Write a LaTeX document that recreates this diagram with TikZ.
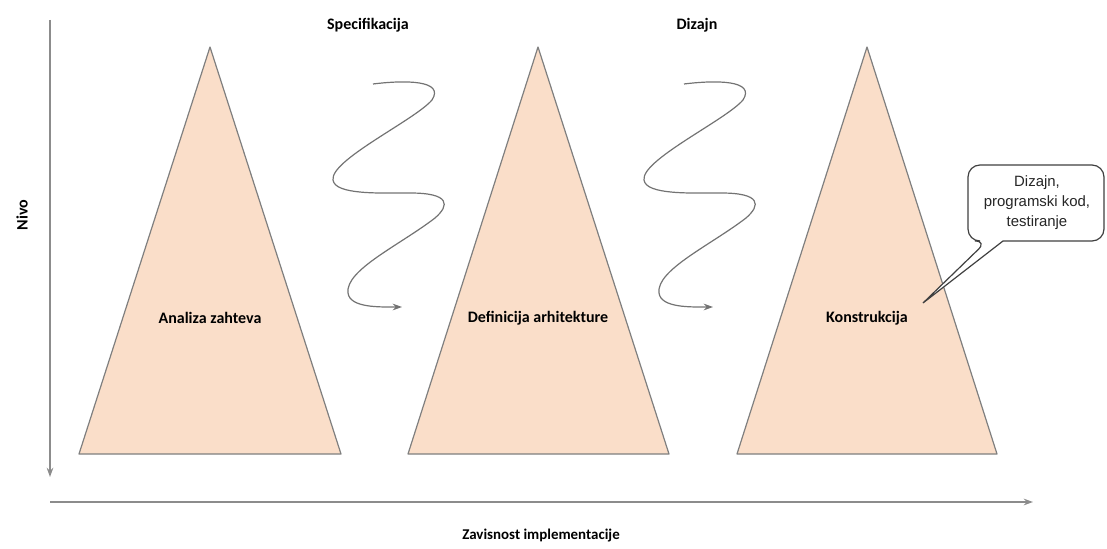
\documentclass[tikz,border=0pt]{standalone}
\usepackage{fontspec}
\setmainfont{Carlito}
\newfontfamily\calloutfont{Liberation Sans}
\usetikzlibrary{arrows.meta}
\definecolor{peach}{HTML}{FADEC9}
\definecolor{edgegray}{HTML}{7F7F7F}
\definecolor{axisgray}{HTML}{8C8C8C}
\definecolor{tipgray}{HTML}{5A5A5A}
\begin{document}
\begin{tikzpicture}[x=0.75pt,y=-0.75pt,
  phase/.style={draw=edgegray,fill=peach,line width=0.9pt,line join=round},
  lbl/.style={font=\bfseries\fontsize{12}{14}\selectfont,text=black},
  axis/.style={draw=axisgray,line width=1.1pt,-{Stealth[length=7pt,width=5pt,fill=tipgray]}},
  wave/.style={draw=gray!90!black,line width=0.9pt,-{Stealth[length=7pt,width=5pt,fill=tipgray]}},
  bubble/.style={draw=black!75,fill=white,line width=0.9pt}]
\useasboundingbox (0,0) rectangle (1107,549);

% axes
\coordinate (ytop) at (50,20);
\coordinate (ybot) at (50,477);
\coordinate (xl) at (50,502);
\coordinate (xr) at (1033,502);
\draw[axis] (ytop) -- (ybot);
\draw[axis] (xl) -- (xr);
\node[lbl,rotate=90] (nivo) at (22,215) {Nivo};
\node[lbl,font=\bfseries\fontsize{11.2}{14}\selectfont] (zav) at (541,536) {Zavisnost implementacije};

% phase headings
\node[lbl] (spec) at (368,25) {Specifikacija};
\node[lbl] (diz) at (697,25) {Dizajn};

% three triangles
\draw[phase] (210,47) -- (341,454) -- (79,454) -- cycle;
\draw[phase] (538,47) -- (669,454) -- (408,454) -- cycle;
\draw[phase] (867,47) -- (997,454) -- (737,454) -- cycle;
\node[lbl] (t1) at (210,318) {Analiza zahteva};
\node[lbl] (t2) at (538,318) {Definicija arhitekture};
\node[lbl] (t3) at (867,318) {Konstrukcija};

% wavy transitions between the phases
\foreach \dx/\nm in {0/a,311/b}{
  \begin{scope}[xshift=\dx*0.75pt]
    \coordinate (ws\nm) at (373,84);
    \coordinate (we\nm) at (402,307);
    \draw[wave] (ws\nm)
      .. controls (405,80) and (445,80) .. (432,100)
      .. controls (415,120) and (330,160) .. (333,180)
      .. controls (335,195) and (380,193) .. (410,193)
      .. controls (450,193) and (450,205) .. (435,218)
      .. controls (400,245) and (345,270) .. (348,293)
      .. controls (350,308) and (380,307) .. (we\nm);
  \end{scope}
}

% speech bubble
\draw[bubble,rounded corners=9pt]
  (1003,241) -- (1104,241) -- (1104,165) -- (968,165) -- (968,241)
  -- (987,241) [sharp corners] -- (923,303) -- (1003,241) -- cycle;
\node[font=\calloutfont\fontsize{11.2}{15}\selectfont,align=center,text=black!85]
  (note) at (1037,203) {Dizajn,\\programski kod,\\testiranje};
\end{tikzpicture}
\end{document}
